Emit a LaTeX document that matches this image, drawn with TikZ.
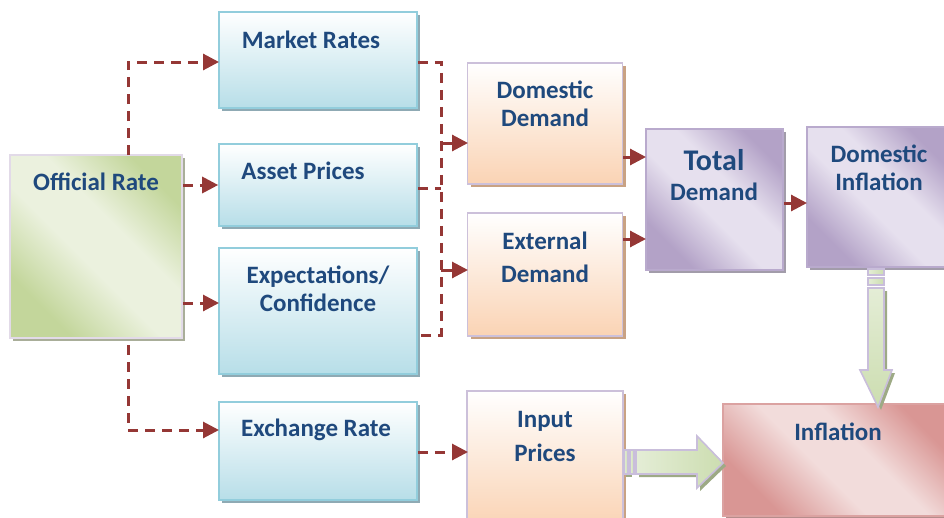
\documentclass[tikz,border=0pt]{standalone}
\usepackage{fontspec}
\setmainfont{Carlito}
\usetikzlibrary{arrows.meta,shadows}

\definecolor{txt}{HTML}{1F497D}
\definecolor{lnk}{HTML}{953735}
\definecolor{blueB}{HTML}{92CDDC}
\definecolor{blueF}{HTML}{B7DEE8}
\definecolor{blueSh}{HTML}{8FAAB4}
\definecolor{orgB}{HTML}{CCC0DA}
\definecolor{orgF}{HTML}{FAD3B4}
\definecolor{orgSh}{HTML}{C9A283}
\definecolor{pD}{HTML}{B3A2C7}
\definecolor{pL}{HTML}{E6E0EE}
\definecolor{pB}{HTML}{B9AACD}
\definecolor{pSh}{HTML}{A29CAA}
\definecolor{gD}{HTML}{C3D69B}
\definecolor{gL}{HTML}{EBF1DE}
\definecolor{gB}{HTML}{E2DAE8}
\definecolor{gSh}{HTML}{A9AE99}
\definecolor{rD}{HTML}{D99694}
\definecolor{rL}{HTML}{F2DCDB}
\definecolor{rB}{HTML}{DBA2A1}
\definecolor{rSh}{HTML}{B58C8B}
\definecolor{arF}{HTML}{E4EDD6}
\definecolor{arD}{HTML}{CCDDB0}
\definecolor{arB}{HTML}{C9BEDB}
\definecolor{arSh}{HTML}{9DAA85}

% diagonal shadings: darker corners, light band through the middle
\pgfdeclarehorizontalshading{purpdiag}{100bp}{color(0bp)=(pD); color(27bp)=(pD); color(45bp)=(pL); color(58bp)=(pL); color(75bp)=(pD); color(100bp)=(pD)}
\pgfdeclarehorizontalshading{greendiag}{100bp}{color(0bp)=(gD); color(27bp)=(gD); color(45bp)=(gL); color(58bp)=(gL); color(75bp)=(gD); color(100bp)=(gD)}
\pgfdeclarehorizontalshading{reddiag}{100bp}{color(0bp)=(rD); color(27bp)=(rD); color(45bp)=(rL); color(58bp)=(rL); color(75bp)=(rD); color(100bp)=(rD)}

\tikzset{
  box/.style={rectangle, inner sep=0pt, line width=1.6pt},
  bluebox/.style={box, draw=blueB, top color=white, bottom color=blueF,
    drop shadow={shadow xshift=3pt, shadow yshift=-3pt, opacity=1, fill=blueSh}},
  orangebox/.style={box, draw=orgB, top color=white, bottom color=orgF,
    drop shadow={shadow xshift=3pt, shadow yshift=-3pt, opacity=1, fill=orgSh}},
  purplebox/.style={box, draw=pB, shading=purpdiag, shading angle=45,
    drop shadow={shadow xshift=3pt, shadow yshift=-3pt, opacity=1, fill=pSh}},
  greenbox/.style={box, draw=gB, shading=greendiag, shading angle=45,
    drop shadow={shadow xshift=3pt, shadow yshift=-3pt, opacity=1, fill=gSh}},
  redbox/.style={box, draw=rB, shading=reddiag, shading angle=45,
    drop shadow={shadow xshift=3pt, shadow yshift=-3pt, opacity=1, fill=rSh}},
  lbl/.style={text=txt, font=\fontsize{25}{28}\selectfont\bfseries, align=center, inner sep=0pt},
  dashlink/.style={draw=lnk, line width=3pt, dash pattern=on 10pt off 7pt},
  tip/.style={-{Triangle[length=16pt,width=16pt]}},
  solidlink/.style={draw=lnk, line width=3pt},
  blockarrow/.style={draw=arB, line width=1.6pt, left color=arF, right color=arD},
  blockshadow/.style={fill=arSh},
}

\begin{document}
\begin{tikzpicture}[x=1pt,y=-1pt]
\useasboundingbox (0,0) rectangle (944,517);

% ---- boxes ----
\node[greenbox, minimum width=172pt, minimum height=183pt] (off) at (96,246.5) {};
\node[bluebox, minimum width=198pt, minimum height=96pt] (mkt) at (318,60) {};
\node[bluebox, minimum width=198pt, minimum height=82pt] (ast) at (318,185) {};
\node[bluebox, minimum width=198pt, minimum height=126pt] (exp) at (318,311) {};
\node[bluebox, minimum width=198pt, minimum height=98pt] (exr) at (318,451) {};
\node[orangebox, minimum width=155pt, minimum height=121pt] (dom) at (545,123.5) {};
\node[orangebox, minimum width=155pt, minimum height=123pt] (ext) at (545,274.5) {};
\node[orangebox, minimum width=156pt, minimum height=136pt] (inp) at (545,459) {};
\node[purplebox, minimum width=137pt, minimum height=141pt] (tot) at (714.5,199.5) {};
\node[purplebox, minimum width=142pt, minimum height=140pt] (din) at (878,197) {};
\node[redbox, minimum width=226pt, minimum height=112pt] (inf) at (836,460) {};

% ---- labels ----
\node[lbl] (offT) at (96,182) {Official Rate};
\node[lbl] (mktT) at (311,40) {Market Rates};
\node[lbl] (astT) at (303,171) {Asset Prices};
\node[lbl] (expT) at (318,289) {Expectations/\\Confidence};
\node[lbl] (exrT) at (316,430) {Exchange Rate};
\node[lbl] (domT) at (545,104) {Domestic\\Demand};
\node[lbl] (extT) at (545,257) {External\\[5pt]Demand};
\node[lbl] (totT) at (714,160) {\fontsize{30}{32}\selectfont Total};
\node[lbl] (totT2) at (714,192) {Demand};
\node[lbl] (dinT) at (879,168) {Domestic\\Inflation};
\node[lbl] (inpT) at (545,436) {Input\\[6pt]Prices};
\node[lbl] (infT) at (838,432) {Inflation};

% ---- dashed links from the official rate ----
\coordinate (offTop) at (128,155);
\coordinate (offBot) at (128,345);
\coordinate (mktIn) at (219,62);
\coordinate (expIn) at (219,303);
\coordinate (exrIn) at (219,430);
\draw[dashlink, tip] (offTop) |- (mktIn);
\draw[dashlink, tip] (off.east |- ast.west) -- (ast.west);
\draw[dashlink, tip] (off.east |- expIn) -- (expIn);
\draw[dashlink, tip] (offBot) |- (exrIn);

% ---- collecting bus into the demand boxes ----
\coordinate (busT) at (441,62);
\coordinate (busB) at (441,335);
\coordinate (domIn) at (468,143);
\coordinate (extIn) at (468,270);
\draw[dashlink] (mkt.east |- busT) -- (busT) -- (busB) -- (exp.east |- busB);
\draw[dashlink] (ast.east |- 0,188) -- (busT |- 0,188);
\draw[solidlink, tip] (busT |- domIn) -- (domIn);
\draw[solidlink, tip] (busT |- extIn) -- (extIn);

% ---- exchange rate to input prices ----
\coordinate (inpIn) at (468,452);
\draw[dashlink, tip] (exr.east |- inpIn) -- (inpIn);

% ---- demand into total demand, total demand into domestic inflation ----
\coordinate (totIn1) at (646,157);
\coordinate (totIn2) at (646,239);
\coordinate (dinIn) at (807,203);
\draw[solidlink, tip] (dom.east |- totIn1) -- (totIn1);
\draw[solidlink, tip] (ext.east |- totIn2) -- (totIn2);
\draw[solidlink, tip] (tot.east |- dinIn) -- (dinIn);

% ---- block arrow: input prices into inflation ----
\fill[blockshadow] (639,453) -- (700,453) -- (700,439) -- (726,466) -- (700,491) -- (700,477) -- (639,477) -- cycle;
\fill[blockshadow] (626,453) rectangle (632,477);
\draw[blockarrow] (636,450) -- (697,450) -- (697,436) -- (723,463) -- (697,488) -- (697,474) -- (636,474) -- cycle;
\draw[blockarrow] (624,450) rectangle (628,474);
\draw[blockarrow] (630,450) rectangle (634,474);

% ---- block arrow: domestic inflation into inflation ----
\fill[blockshadow] (871,291) -- (887,291) -- (887,373) -- (895,373) -- (881,410) -- (863,373) -- (871,373) -- cycle;
\draw[blockarrow, top color=arF, bottom color=arD] (868,288) -- (884,288) -- (884,370) -- (892,370) -- (878,407) -- (860,370) -- (868,370) -- cycle;
\draw[blockarrow] (868,269) rectangle (884,275);
\draw[blockarrow] (868,278) rectangle (884,285);
\end{tikzpicture}
\end{document}
